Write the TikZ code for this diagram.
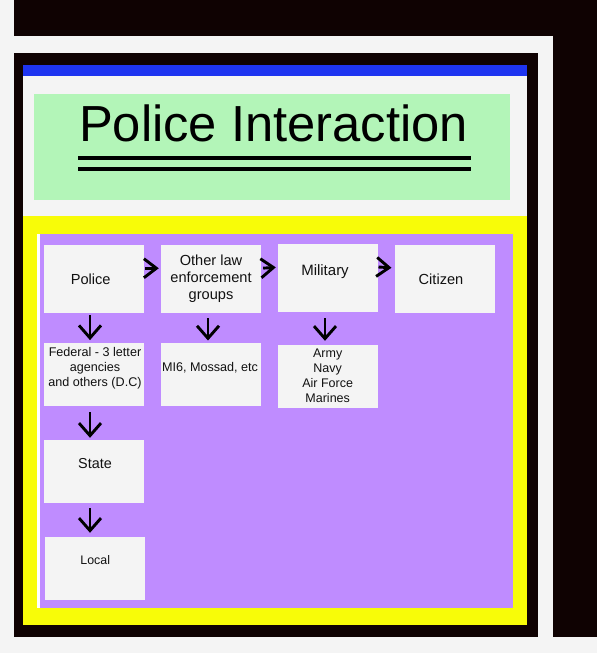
\documentclass[tikz,border=0pt]{standalone}
\usepackage{fontspec}
\setmainfont{Liberation Sans}
\usetikzlibrary{arrows.meta}
\definecolor{bgc}{HTML}{F4F4F4}
\definecolor{darkc}{HTML}{0F0202}
\definecolor{bluec}{HTML}{1E34F0}
\definecolor{greenc}{HTML}{B3F5B8}
\definecolor{yellowc}{HTML}{F8FC08}
\definecolor{purplec}{HTML}{BF8CFF}
\definecolor{boxc}{HTML}{F4F4F4}
\definecolor{txtc}{HTML}{111111}
\begin{document}
\begin{tikzpicture}[x=1pt,y=-1pt,
  box/.style={fill=boxc, draw=none, minimum width=100pt, inner sep=0pt},
  btxt/.style={text=txtc, align=center, inner sep=0pt},
  big/.style={btxt, font=\fontsize{14.6}{17}\selectfont},
  small/.style={btxt, font=\fontsize{12.6}{15}\selectfont},
  harr/.style={draw=black, line width=2.9pt, -{Straight Barb[length=12.5pt,width=19pt]}},
  varr/.style={draw=black, line width=2.9pt, -{Straight Barb[length=12.5pt,width=22pt]}}]
\useasboundingbox (0,0) rectangle (597,653);
% background and frames
\fill[bgc] (0,0) rectangle (597,653);
\fill[darkc] (14,0) rectangle (597,36);
\fill[darkc] (553,36) rectangle (597,637);
\fill[darkc] (14,53) rectangle (538,637);
\fill[bluec] (23,65) rectangle (527,76);
\fill[bgc] (23,76) rectangle (527,216);
\fill[greenc] (34,94) rectangle (510,200);
\fill[yellowc] (23,216) rectangle (527,625);
\fill[white] (37,234) rectangle (510,607.5);
\fill[purplec] (40,234) rectangle (513,607.5);
% title
\node[anchor=base, inner sep=0pt, text=black, font=\fontsize{50.7}{60}\selectfont] (title) at (273.5,141.7) {Police Interaction};
\coordinate (l1a) at (78,157.7); \coordinate (l1b) at (471,157.7);
\coordinate (l2a) at (78,168.7); \coordinate (l2b) at (471,168.7);
\draw[line width=4pt, black] (l1a) -- (l1b);
\draw[line width=4pt, black] (l2a) -- (l2b);
% boxes
\node[box, minimum height=67.5pt] (police) at (94,278.75) {};
\node[box, minimum height=67.5pt] (other) at (211,278.75) {};
\node[box, minimum height=67.5pt] (military) at (328,277.75) {};
\node[box, minimum height=67.5pt] (citizen) at (445,278.75) {};
\node[box, minimum height=62.4pt] (federal) at (94,374.5) {};
\node[box, minimum height=62.4pt] (mi6) at (211,374.5) {};
\node[box, minimum height=62.7pt] (army) at (328,376.35) {};
\node[box, minimum height=62.7pt] (state) at (94,471.35) {};
\node[box, minimum height=62.7pt] (local) at (95,568.35) {};
% texts
\node[big] (policeT) at (90.7,279) {Police};
\node[big] (otherT) at (211,279.2) {Other law\\enforcement\\groups};
\node[big, font=\fontsize{15}{17}\selectfont] (militaryT) at (325,271.7) {Military};
\node[big] (citizenT) at (441,279.3) {Citizen};
\node[small] (federalT) at (95,368.3) {Federal - 3 letter\\agencies\\and others (D.C)};
\node[small] (mi6T) at (210,368) {MI6, Mossad, etc};
\node[small, font=\fontsize{12.5}{15}\selectfont] (armyT) at (327.7,375.5) {Army\\Navy\\Air Force\\Marines};
\node[btxt, font=\fontsize{14.4}{17}\selectfont] (stateT) at (95,464) {State};
\node[btxt, font=\fontsize{12.4}{15}\selectfont] (localT) at (95.2,560) {Local};
% horizontal arrows
\draw[harr, shorten <=1pt, shorten >=2pt] ([yshift=10.5pt]police.east) -- ([yshift=10.5pt]other.west);
\draw[harr, shorten <=2pt, shorten >=2pt] ([yshift=10.5pt]other.east) -- ([yshift=10.5pt]military.west);
\draw[harr, shorten <=0.3pt, shorten >=3.3pt] ([yshift=10.75pt]military.east) -- ([yshift=10.75pt]citizen.west);
% vertical arrows
\draw[varr, shorten <=2.5pt, shorten >=3pt] ([xshift=-4pt]police.south) -- ([xshift=-4pt]federal.north);
\draw[varr, shorten <=5.5pt, shorten >=2.6pt] ([xshift=-3pt]other.south) -- ([xshift=-3pt]mi6.north);
\draw[varr, shorten <=6.5pt, shorten >=4pt] ([xshift=-3pt]military.south) -- ([xshift=-3pt]army.north);
\draw[varr, shorten <=6.3pt, shorten >=2pt] ([xshift=-4pt]federal.south) -- ([xshift=-4pt]state.north);
\draw[varr, shorten <=5.3pt, shorten >=4pt] ([xshift=-4pt]state.south) -- ([xshift=-5pt]local.north);
\end{tikzpicture}
\end{document}
